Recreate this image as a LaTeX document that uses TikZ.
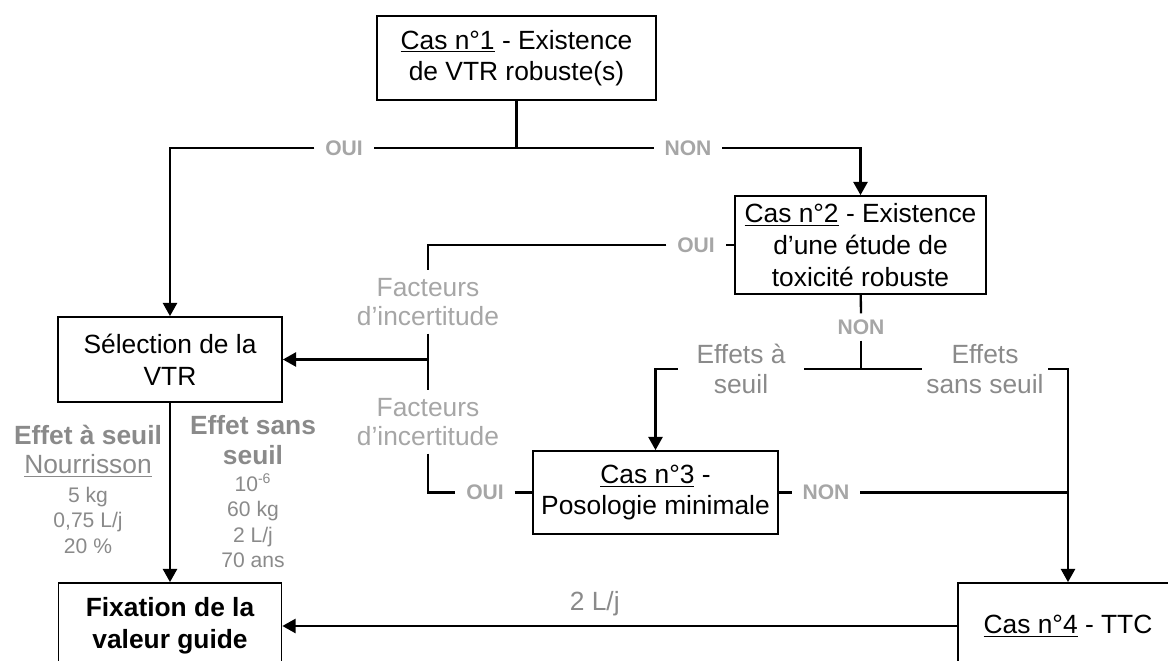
\documentclass[tikz,border=0pt]{standalone}
\usepackage{fontspec}
\setmainfont{Liberation Sans}
\usepackage{xcolor}
\usepackage{tikz}
\usetikzlibrary{arrows.meta}
\definecolor{paleg}{RGB}{166, 166, 166}
\definecolor{midg}{RGB}{138, 138, 138}

\begin{document}
\begin{tikzpicture}[x=0.2mm,y=-0.2mm,
  box/.style={draw,line width=1pt,align=center,inner sep=0pt,font=\fontsize{15}{18}\selectfont},
  link/.style={line width=1.3pt},
  arr/.style={link,-{Triangle[length=7.5pt,width=8pt]}},
  yesno/.style={text=paleg,inner xsep=6pt,font=\fontsize{12}{14}\selectfont\bfseries},
  fact/.style={text=paleg,align=center,inner ysep=4pt,font=\fontsize{15}{17}\selectfont},
  eff/.style={text=midg,align=center,font=\fontsize{15}{17}\selectfont},
  effb/.style={eff,font=\fontsize{15}{17}\selectfont\bfseries},
  effs/.style={text=midg,align=center,font=\fontsize{12}{14.5}\selectfont}]
\clip (0,0) rectangle (1168,661);
% boxes
\node[box,minimum width=5.58cm,minimum height=1.68cm] (cas1) at (516.5,58) {\underline{Cas n°1} - Existence\\de VTR robuste(s)};
\node[box,minimum width=5.02cm,minimum height=1.96cm] (cas2) at (860.5,245) {\underline{Cas n°2} - Existence\\d’une étude de\\toxicité robuste};
\node[box,minimum width=4.48cm,minimum height=1.7cm] (sel) at (170,359.5) {Sélection de la\\VTR};
\node[box,minimum width=4.9cm,minimum height=1.66cm] (cas3) at (655.5,492.5) {\underline{Cas n°3} -\\Posologie minimale};
\node[box,minimum width=4.46cm,minimum height=1.72cm,font=\fontsize{15}{18}\selectfont\bfseries] (fix) at (170,626) {Fixation de la\\valeur guide};
\node[box,minimum width=4.4cm,minimum height=1.72cm] (cas4) at (1068,626) {\underline{Cas n°4} - TTC};
% branch labels
\node[yesno] (oui1) at (344,148) {OUI};
\node[yesno] (non1) at (688,148) {NON};
\node[yesno] (oui2) at (696,245) {OUI};
\node[yesno] (non2) at (861,327) {NON};
\node[yesno] (oui3) at (485,492.5) {OUI};
\node[yesno] (non3) at (826,492.5) {NON};
\node[fact] (fa1) at (428,302) {Facteurs\\d’incertitude};
\node[fact] (fa2) at (428,422) {Facteurs\\d’incertitude};
\node[eff,minimum width=2.52cm,inner xsep=0pt] (ea) at (741,369) {Effets à\\seuil};
\node[eff,minimum width=2.52cm,inner xsep=0pt] (es) at (985,369) {Effets\\sans seuil};
% junctions
\coordinate (j1) at (cas1.south |- oui1);
\coordinate (j2) at (fa1.south |- sel);
\coordinate (j3) at (non2 |- ea);
\coordinate (j4) at (cas4.north |- non3);
% connectors
\draw[link] (cas1) -- (j1) -- (oui1);
\draw[link] (j1) -- (non1);
\draw[arr] (oui1) -| (sel);
\draw[arr] (non1) -| (cas2);
\draw[link] (cas2) -- (oui2);
\draw[link] (oui2) -| (fa1);
\draw[link] (fa1) -- (fa2);
\draw[arr] (j2) -- (sel);
\draw[link] (fa2) |- (oui3);
\draw[link] (oui3) -- (cas3);
\draw[link] (cas2) -- (non2);
\draw[link] (non2) -- (j3);
\draw[link] (j3) -- (ea);
\draw[link] (j3) -- (es);
\draw[arr] (ea) -| (cas3);
\draw[arr] (es) -| (cas4);
\draw[link] (cas3) -- (non3);
\draw[link] (non3) -- (j4);
\draw[arr] (sel) -- (fix);
\draw[arr] (cas4) -- (fix) node[eff,pos=0.537,above=2pt] (vol) {2 L/j};
% hypotheses for the guide value
\node[effb] (efa) at (88,435) {Effet à seuil};
\node[eff] (nour) at (88,466) {\underline{Nourrisson}};
\node[effs] (vala) at (88,520) {5 kg\\0,75 L/j\\20~\%};
\node[effb] (efb) at (253,440) {Effet sans\\seuil};
\node[effs] (valb) at (253,521) {10\textsuperscript{-6}\\60 kg\\2 L/j\\70 ans};
\end{tikzpicture}
\end{document}
